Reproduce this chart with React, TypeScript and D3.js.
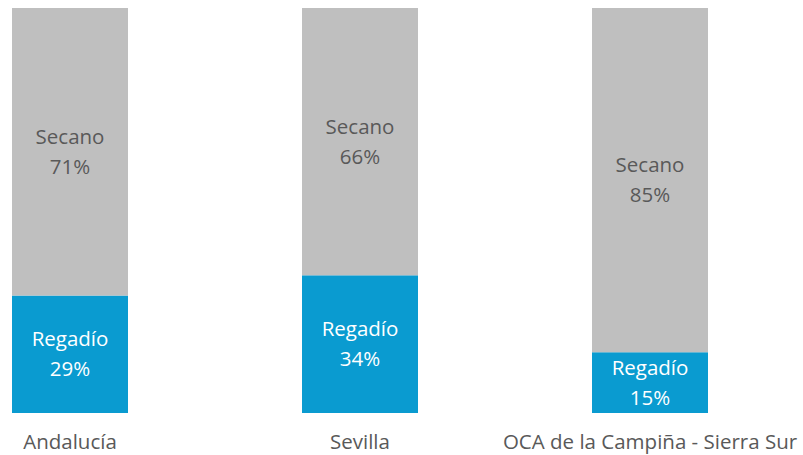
import * as d3 from "d3";

const WIDTH = 803;
const HEIGHT = 455;
const MARGIN = { top: 8, right: 95, bottom: 42, left: 12 };

const CATEGORIES = ["Andalucía", "Sevilla", "OCA de la Campiña - Sierra Sur"];
const REGADIO = [29, 34, 15];
const SECANO = [71, 66, 85];
const SERIES = ["Regadío", "Secano"];

const COLORS: Record<string, string> = { Regadío: "#0a9bd0", Secano: "#bfbfbf" };
const TEXT_COLORS: Record<string, string> = { Regadío: "#ffffff", Secano: "#595959" };

const FONT = "'Open Sans', 'Noto Sans', sans-serif";

export default function App() {
    const boundsWidth = WIDTH - MARGIN.left - MARGIN.right;
    const boundsHeight = HEIGHT - MARGIN.top - MARGIN.bottom;

    const rows = CATEGORIES.map((name, i) => ({
        name,
        Regadío: REGADIO[i],
        Secano: SECANO[i],
    }));

    const stacked = d3.stack<(typeof rows)[number]>().keys(SERIES)(rows);

    const xScale = d3
        .scaleBand<string>()
        .domain(CATEGORIES)
        .range([0, boundsWidth])
        .paddingInner(0.6)
        .paddingOuter(0);

    const yScale = d3.scaleLinear().domain([0, 100]).range([boundsHeight, 0]);

    return (
        <svg width={WIDTH} height={HEIGHT} style={{ position: "absolute", left: 0, top: 0 }}>
            <g transform={`translate(${MARGIN.left},${MARGIN.top})`}>
                {stacked.map((layer) =>
                    layer.map((d, j) => {
                        const x = xScale(d.data.name) ?? 0;
                        const y0 = yScale(d[0]);
                        const y1 = yScale(d[1]);
                        const cx = x + xScale.bandwidth() / 2;
                        const cy = (y0 + y1) / 2;
                        return (
                            <g key={`${layer.key}_${j}`}>
                                <rect
                                    x={x}
                                    y={y1}
                                    width={xScale.bandwidth()}
                                    height={y0 - y1}
                                    fill={COLORS[layer.key]}
                                />
                                <text
                                    x={cx}
                                    textAnchor="middle"
                                    fontFamily={FONT}
                                    fontSize={20.5}
                                    fill={TEXT_COLORS[layer.key]}
                                >
                                    <tspan x={cx} y={cy - 8}>{layer.key}</tspan>
                                    <tspan x={cx} y={cy + 22}>{`${d[1] - d[0]}%`}</tspan>
                                </text>
                            </g>
                        );
                    })
                )}
                {CATEGORIES.map((name) => (
                    <text
                        key={name}
                        x={(xScale(name) ?? 0) + xScale.bandwidth() / 2}
                        y={boundsHeight + 36}
                        textAnchor="middle"
                        fontFamily={FONT}
                        fontSize={20.5}
                        fill="#595959"
                    >
                        {name}
                    </text>
                ))}
            </g>
        </svg>
    );
}
